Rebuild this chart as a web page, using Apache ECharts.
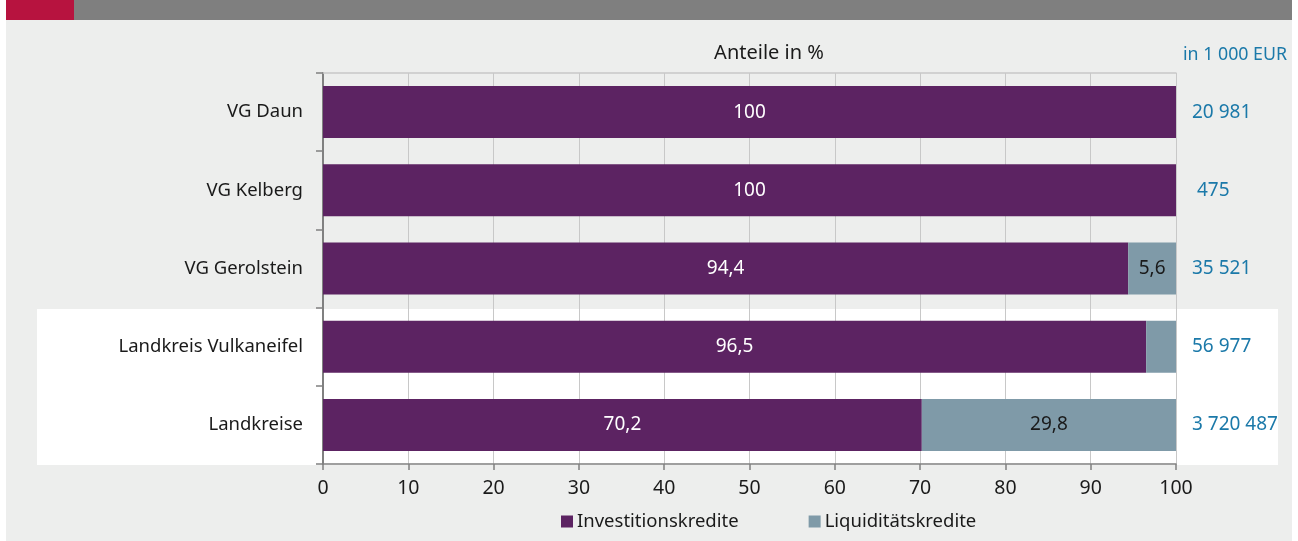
<!DOCTYPE html>
<html>
<head>
<meta charset="utf-8">
<script src="https://cdn.jsdelivr.net/npm/echarts@6/dist/echarts.min.js"></script>
<style>
  html, body { margin: 0; padding: 0; background: #ffffff; }
  #chart { width: 1298px; height: 541px; }
</style>
</head>
<body>
<div id="chart"></div>
<script>
  // Daten
  var categories = ['VG Daun', 'VG Kelberg', 'VG Gerolstein', 'Landkreis Vulkaneifel', 'Landkreise'];
  var investition = [100, 100, 94.4, 96.5, 70.2];
  var liquiditaet = [0, 0, 5.6, 3.5, 29.8];
  var totals = ['20 981', ' 475', '35 521', '56 977', '3 720 487'];
  var xTicks = [0, 10, 20, 30, 40, 50, 60, 70, 80, 90, 100];

  var font = 'Noto Sans';
  var fmt = function (v) { return String(v).replace('.', ','); };

  var chart = echarts.init(document.getElementById('chart'));
  chart.setOption({
    animation: false,
    textStyle: { fontFamily: font },
    graphic: [
      // Hintergrund
      { type: 'rect', z: -10, shape: { x: 6, y: 0, width: 1286, height: 541 }, style: { fill: '#edeeed' } },
      { type: 'rect', z: -10, shape: { x: 6, y: 0, width: 1286, height: 20 }, style: { fill: '#7f7f7f' } },
      { type: 'rect', z: -9, shape: { x: 6, y: 0, width: 68, height: 20 }, style: { fill: '#b7133f' } },
      { type: 'rect', z: -9, shape: { x: 37, y: 309, width: 1241, height: 156 }, style: { fill: '#ffffff' } }
    ],
    title: [
      { text: 'Anteile in %', left: 764, top: 38, textAlign: 'center',
        textStyle: { fontFamily: font, fontSize: 20, fontWeight: 'normal', color: '#1a1a1a' } },
      { text: 'in 1 000 EUR', left: 1230, top: 41, textAlign: 'center',
        textStyle: { fontFamily: font, fontSize: 17.8, fontWeight: 'normal', color: '#1b79a9' } }
    ],
    legend: {
      bottom: 5, left: 556, itemWidth: 12, itemHeight: 12, itemGap: 70,
      icon: 'rect',
      textStyle: { fontFamily: font, fontSize: 18.5, color: '#1a1a1a', padding: [0, 0, 0, -1] },
      data: ['Investitionskredite', 'Liquiditätskredite']
    },
    grid: { left: 323, right: 122, top: 73, bottom: 77 },
    xAxis: [{
      type: 'value', min: 0, max: 100, interval: 10,
      axisLine: { show: true, lineStyle: { color: '#808080', width: 1.5 } },
      axisTick: { show: true, length: 6, lineStyle: { color: '#808080', width: 1.5 } },
      axisLabel: { fontFamily: font, fontSize: 19.5, color: '#1a1a1a', margin: 14,
        formatter: function (v) { return xTicks.indexOf(v) >= 0 ? v : ''; } },
      splitLine: { show: true, lineStyle: { color: '#c8c8c8', width: 1 } }
    }, {
      type: 'value', min: 0, max: 100, position: 'top',
      axisLine: { show: true, lineStyle: { color: '#c8c8c8', width: 1.5 } },
      axisTick: { show: false }, axisLabel: { show: false }, splitLine: { show: false }
    }],
    yAxis: [{
      type: 'category', inverse: true, data: categories,
      axisLine: { show: true, lineStyle: { color: '#808080', width: 2 } },
      axisTick: { show: true, length: 7, lineStyle: { color: '#808080', width: 1.5 } },
      axisLabel: { fontFamily: font, fontSize: 18.5, color: '#1a1a1a', margin: 20 }
    }, {
      type: 'category', inverse: true, data: totals, position: 'right',
      axisLine: { show: false }, axisTick: { show: false },
      axisLabel: { fontFamily: font, fontSize: 19, color: '#1b79a9', margin: 16, align: 'left' }
    }],
    series: [{
      name: 'Investitionskredite', type: 'bar', stack: 'a', data: investition,
      barWidth: 52, itemStyle: { color: '#5c2362' },
      label: { show: true, position: 'inside', fontFamily: font, fontSize: 19, color: '#ffffff',
        formatter: function (p) { return fmt(p.value); } }
    }, {
      name: 'Liquiditätskredite', type: 'bar', stack: 'a', data: liquiditaet,
      barWidth: 52, itemStyle: { color: '#7f9aa8' },
      label: { show: true, position: 'inside', fontFamily: font, fontSize: 19, color: '#1a1a1a',
        formatter: function (p) { return p.value >= 5 ? fmt(p.value) : ''; } }
    }]
  });
</script>
</body>
</html>
